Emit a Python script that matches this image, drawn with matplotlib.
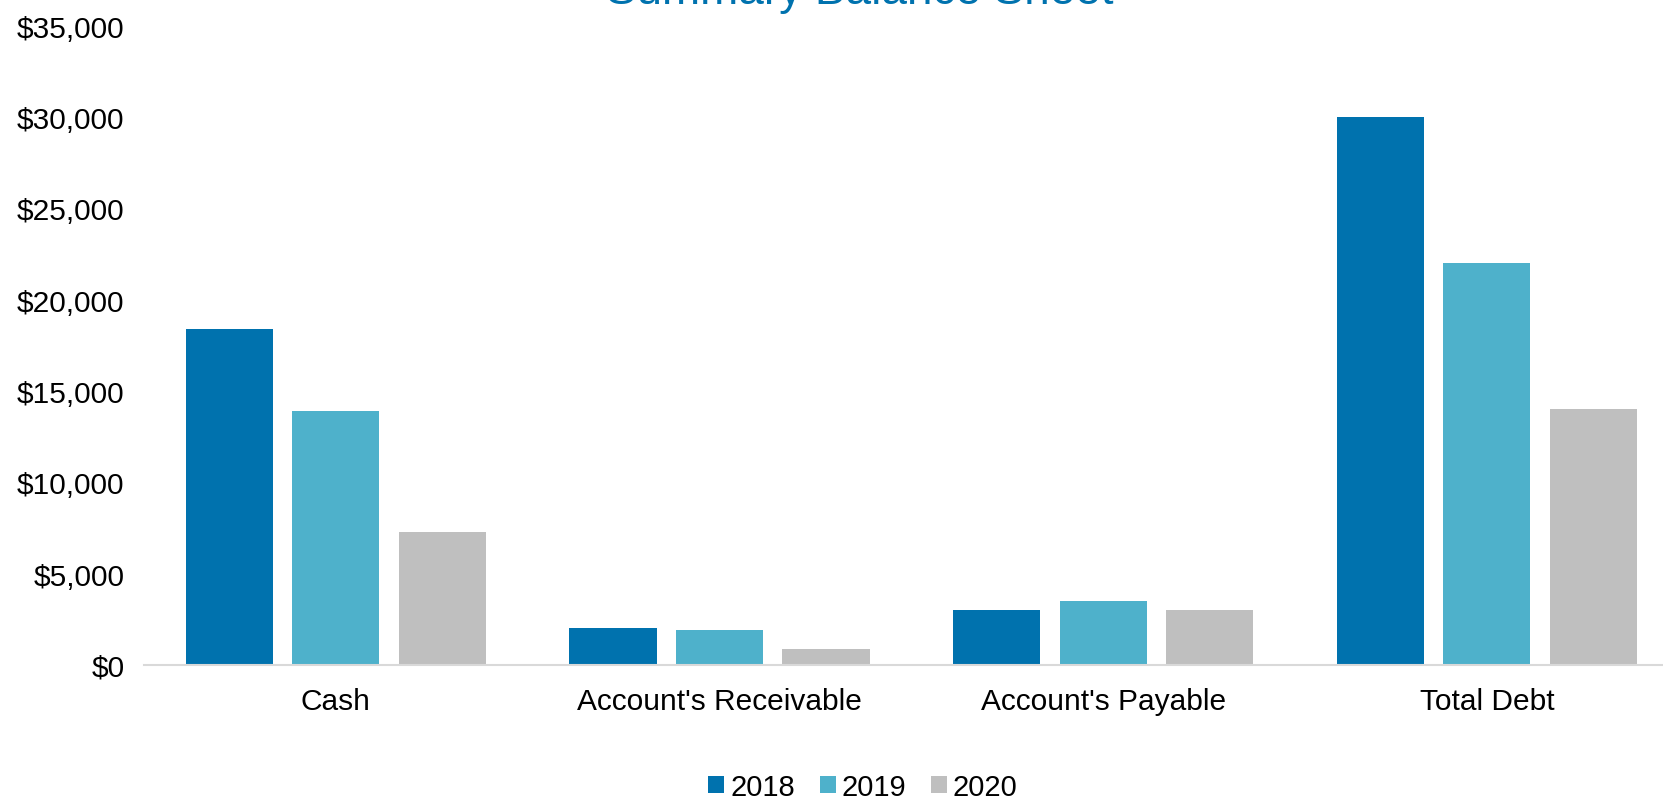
import matplotlib.pyplot as plt
import numpy as np

plt.rcParams['font.family'] = ['Liberation Sans', 'DejaVu Sans']

categories = ["Cash", "Account's Receivable", "Account's Payable", "Total Debt"]
years = ["2018", "2019", "2020"]
v2018 = [18400, 2000, 3000, 30000]
v2019 = [13900, 1900, 3500, 22000]
v2020 = [7300, 900, 3000, 14000]
colors = ["#0072AE", "#4EB1CB", "#BFBFBF"]

W, H = 1663, 803
fig = plt.figure(figsize=(W / 100, H / 100), dpi=100)
left = 144 / W
bottom = 1 - 666 / H
top = 1 - 26.5 / H
ax = fig.add_axes([left, bottom, 1 - left, top - bottom])

x = np.arange(len(categories))
width = 0.227
pitch = 0.2776
for i, (vals, yr) in enumerate(zip([v2018, v2019, v2020], years)):
    ax.bar(x + (i - 1) * pitch, vals, width, color=colors[i], label=yr)

ax.set_xlim(-0.5, 3.459)
ax.set_ylim(0, 35000)
ax.set_yticks(np.arange(0, 35001, 5000))
ax.set_yticklabels(["${:,}".format(v) for v in range(0, 35001, 5000)])
ax.set_xticks(x)
ax.set_xticklabels(categories)
ax.tick_params(axis='both', length=0, labelsize=21.5)
ax.tick_params(axis='y', pad=14)
ax.tick_params(axis='x', pad=16)

for s in ['top', 'right', 'left']:
    ax.spines[s].set_visible(False)
ax.spines['bottom'].set_color('#D9D9D9')
ax.spines['bottom'].set_linewidth(1.5)

fig.text(860 / W, 1 - 3.5 / H, "Summary Balance Sheet", color="#0072AE",
         fontsize=33, ha='center', va='baseline')

fig.legend(loc='center', bbox_to_anchor=(863 / W, 1 - 788 / H), ncol=3,
           frameon=False, fontsize=21, handlelength=0.55, handleheight=0.55,
           handletextpad=0.2, columnspacing=0.85)

fig.savefig("out.png", dpi=100)
